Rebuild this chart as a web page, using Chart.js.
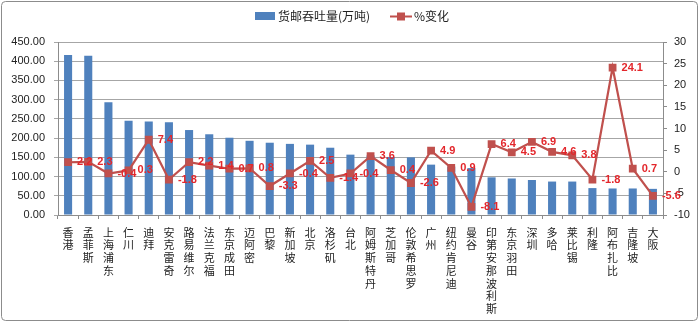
<!DOCTYPE html>
<html lang="zh">
  <head>
    <meta charset="UTF-8" />
    <title>货邮吞吐量</title>
    <script src="https://cdn.jsdelivr.net/npm/chart.js"></script>
    <style>
      html, body { margin: 0; padding: 0; background: #fff; }
    </style>
  </head>
  <body>
    <canvas id="myChart" width="700" height="322"></canvas>

    <script>
      const airports = [
        "香港", "孟菲斯", "上海浦东", "仁川", "迪拜", "安克雷奇", "路易维尔", "法兰克福",
        "东京成田", "迈阿密", "巴黎", "新加坡", "北京", "洛杉矶", "台北", "阿姆斯特丹",
        "芝加哥", "伦敦希思罗", "广州", "纽约肯尼迪", "曼谷", "印第安那波利斯", "东京羽田",
        "深圳", "多哈", "莱比锡", "利隆", "阿布扎比", "吉隆坡", "大阪"
      ];
      // 货邮吞吐量 (万吨)
      const cargo = [
        416, 414, 293, 245, 243, 241, 221, 210, 201, 193, 188, 185, 183, 175, 157,
        155, 151, 150, 131, 126, 122, 98, 95, 91, 87, 87, 70, 69, 69, 68
      ];
      // %变化
      const change = [
        2.2, 2.3, -0.4, 0.3, 7.4, -1.8, 2.2, 1.4, 0.7, 0.8, -3.3, -0.4, 2.5, -1.4, -0.4,
        3.6, 0.4, -2.6, 4.9, 0.9, -8.1, 6.4, 4.5, 6.9, 4.6, 3.8, -1.8, 24.1, 0.7, -5.6
      ];
      const cargoTicks = [0, 50, 100, 150, 200, 250, 300, 350, 400, 450];
      const changeTicks = [-10, -5, 0, 5, 10, 15, 20, 25, 30];

      const BLUE = "#4f81bd";
      const RED = "#c0504d";
      const latin = '"Liberation Sans", "Noto Sans CJK SC", sans-serif';
      const cjk = '"Noto Sans CJK SC", "Liberation Sans", sans-serif';

      // stack the characters so the labels read top to bottom
      const verticalLabels = airports.map((name) => name.split(""));

      const frame = {
        id: "frame",
        beforeDraw(chart) {
          const ctx = chart.ctx;
          ctx.save();
          ctx.fillStyle = "#fff";
          ctx.fillRect(0, 0, chart.width, chart.height);
          ctx.strokeStyle = "#8c8c8c";
          ctx.lineWidth = 1;
          ctx.beginPath();
          ctx.roundRect(1.5, 1.5, chart.width - 4, chart.height - 3, 4);
          ctx.stroke();
          ctx.restore();
        },
      };

      const legendBox = {
        id: "legendBox",
        afterDraw(chart) {
          const ctx = chart.ctx;
          ctx.save();
          ctx.font = "12px " + cjk;
          ctx.textBaseline = "middle";
          ctx.fillStyle = BLUE;
          ctx.fillRect(255, 12, 20, 8);
          ctx.fillStyle = "#222";
          ctx.fillText("货邮吞吐量(万吨)", 278, 16.5);
          ctx.strokeStyle = RED;
          ctx.lineWidth = 2;
          ctx.beginPath();
          ctx.moveTo(390, 16.5);
          ctx.lineTo(412, 16.5);
          ctx.stroke();
          ctx.fillStyle = RED;
          ctx.fillRect(397, 12.5, 8, 8);
          ctx.fillStyle = "#222";
          ctx.fillText("%变化", 414, 16.5);
          ctx.restore();
        },
      };

      const pointLabels = {
        id: "pointLabels",
        afterDatasetsDraw(chart) {
          const meta = chart.getDatasetMeta(1);
          const ctx = chart.ctx;
          ctx.save();
          ctx.font = "bold 11px " + latin;
          ctx.fillStyle = "#e3262b";
          ctx.textBaseline = "middle";
          ctx.textAlign = "left";
          meta.data.forEach((pt, i) => {
            ctx.fillText(change[i].toFixed(1), pt.x + 9, pt.y);
          });
          ctx.restore();
        },
      };

      const ctx = document.getElementById("myChart").getContext("2d");
      const myChart = new Chart(ctx, {
        data: {
          labels: verticalLabels,
          datasets: [
            {
              type: "bar",
              label: "货邮吞吐量(万吨)",
              data: cargo,
              backgroundColor: BLUE,
              yAxisID: "y",
              barPercentage: 0.8,
              categoryPercentage: 0.5,
              order: 1,
            },
            {
              type: "line",
              label: "%变化",
              data: change,
              borderColor: RED,
              backgroundColor: RED,
              borderWidth: 2.2,
              pointStyle: "rect",
              pointRadius: 5.5,
              pointBorderWidth: 0,
              tension: 0,
              yAxisID: "y1",
              order: 0,
            },
          ],
        },
        options: {
          responsive: false,
          animation: false,
          devicePixelRatio: 1,
          layout: { padding: { top: 42, left: 0, right: 0, bottom: 0 } },
          plugins: {
            legend: { display: false },
            tooltip: { enabled: false },
          },
          scales: {
            x: {
              offset: true,
              grid: {
                offset: true,
                drawOnChartArea: false,
                drawTicks: true,
                tickLength: 4,
                color: "#8c8c8c",
              },
              border: { color: "#8c8c8c" },
              ticks: {
                autoSkip: false,
                maxRotation: 0,
                minRotation: 0,
                padding: 7,
                color: "#222",
                font: { family: cjk, size: 11, lineHeight: 1.16 },
              },
              afterFit(scale) {
                scale.height = 107;
              },
            },
            y: {
              position: "left",
              min: cargoTicks[0],
              max: cargoTicks[cargoTicks.length - 1],
              afterBuildTicks(scale) {
                scale.ticks = cargoTicks.map((v) => ({ value: v }));
              },
              grid: { color: "#a6a6a6", tickLength: 4 },
              border: { color: "#8c8c8c" },
              ticks: {
                padding: 9,
                color: "#222",
                font: { family: latin, size: 11 },
                callback: (v) => Number(v).toFixed(2),
              },
              afterFit(scale) {
                scale.width = 58;
              },
            },
            y1: {
              position: "right",
              min: changeTicks[0],
              max: changeTicks[changeTicks.length - 1],
              afterBuildTicks(scale) {
                scale.ticks = changeTicks.map((v) => ({ value: v }));
              },
              grid: { drawOnChartArea: false, tickLength: 4, color: "#8c8c8c" },
              border: { color: "#8c8c8c" },
              ticks: {
                padding: 7,
                color: "#222",
                font: { family: latin, size: 11 },
              },
              afterFit(scale) {
                scale.width = 37;
              },
            },
          },
        },
        plugins: [frame, legendBox, pointLabels],
      });
    </script>
  </body>
</html>
